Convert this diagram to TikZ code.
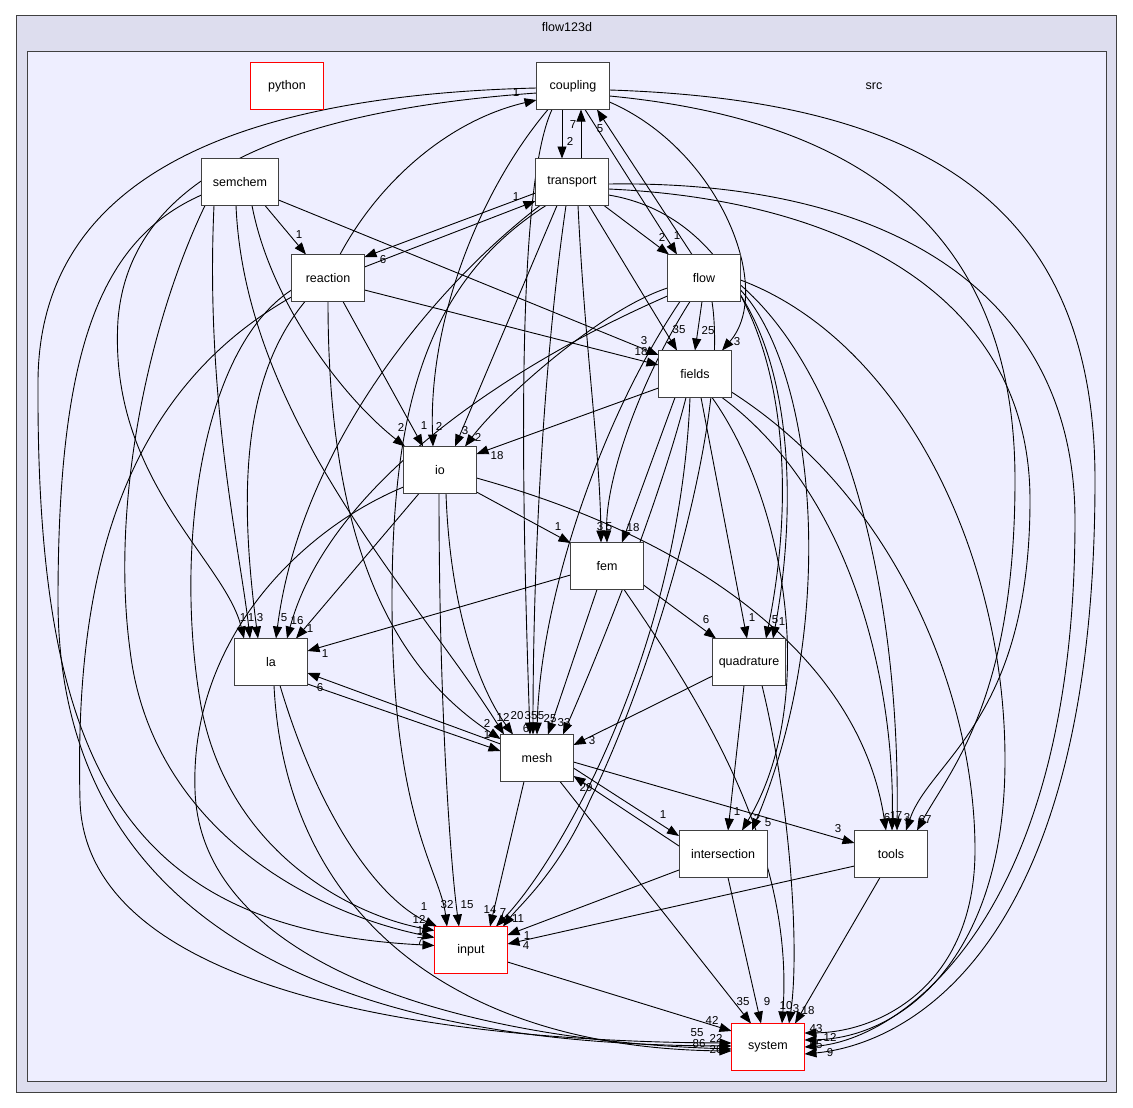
\documentclass[tikz,border=0pt]{standalone}
\usepackage{fontspec}
\setmainfont{Liberation Sans}
\usetikzlibrary{arrows.meta,calc}
\definecolor{outerfill}{HTML}{DDDDEE}
\definecolor{innerfill}{HTML}{EEEEFF}
\definecolor{frame}{HTML}{404040}
\definecolor{redframe}{HTML}{FF0000}
\pgfdeclarelayer{bg}
\pgfdeclarelayer{edges}
\pgfsetlayers{bg,edges,main}
\begin{document}
\begin{tikzpicture}[x=1pt,y=-1pt,
  box/.style={draw=frame, fill=white, line width=1pt, minimum width=73pt, minimum height=47pt, inner sep=0pt, font=\fontsize{12.5}{14}\selectfont},
  redbox/.style={box, draw=redframe},
  dep/.style={draw=black, line width=0.9pt, -{Triangle[length=12pt,width=9pt]}},
  lbl/.style={font=\fontsize{11.5}{12}\selectfont, inner sep=0pt},
  title/.style={font=\fontsize{12.5}{14}\selectfont, inner sep=0pt}]
\useasboundingbox (0,0) rectangle (1133,1108);
\begin{pgfonlayer}{bg}
\draw[frame, fill=outerfill, line width=1pt] (16,16) rectangle (1116,1092);
\draw[frame, fill=innerfill, line width=1pt] (27,52) rectangle (1106,1081);
\end{pgfonlayer}
\node[title] (ttl) at (567,27) {flow123d};
\node[title] (srct) at (874,86) {src};
% nodes
\node[redbox] (pyt) at (287,86) {python};
\node[box] (cpl) at (573,86) {coupling};
\node[box] (trn) at (572,182) {transport};
\node[box, minimum width=77pt] (sem) at (240,182) {semchem};
\node[box] (rea) at (328,278) {reaction};
\node[box] (flw) at (704,278) {flow};
\node[box] (fld) at (695,374) {fields};
\node[box] (nio) at (440,470) {io};
\node[box] (fem) at (607,566) {fem};
\node[box] (nla) at (271,662) {la};
\node[box] (qua) at (749,662) {quadrature};
\node[box] (msh) at (537,758) {mesh};
\node[box, minimum width=88pt] (ist) at (723,854) {intersection};
\node[box] (tls) at (891,854) {tools};
\node[redbox] (inp) at (471,950) {input};
\node[redbox] (sys) at (768,1047) {system};
\begin{pgfonlayer}{edges}
% coupling
\draw[dep] ($(cpl)+(-11,23.5)$) -- ($(trn)+(-10,-23.5)$);
\draw[dep] ($(trn)+(9,-23.5)$) -- ($(cpl)+(8,23.5)$);
\draw[dep] ($(cpl)+(12,23.5)$) -- ($(flw)+(-27,-23.5)$);
\draw[dep] ($(flw)+(-12,-23.5)$) -- ($(cpl)+(24,23.5)$);
\draw[dep] ($(cpl)+(-25,23.5)$) .. controls (480,190) and (428,320) .. ($(nio)+(-7,-23.5)$);
\draw[dep] ($(cpl)+(-21,23.5)$) .. controls (515,190) and (522,500) .. ($(msh)+(-7,-23.5)$);
\draw[dep] ($(cpl)+(-36.5,7)$) .. controls (300,110) and (130,170) .. (118,320) .. controls (108,480) and (225,560) .. ($(nla)+(-27,-23.5)$);
\draw[dep] ($(cpl)+(-36.5,2)$) .. controls (250,95) and (40,170) .. (38,380) .. controls (36,760) and (120,930) .. ($(inp)+(-36.5,-4.5)$);
\draw[dep] ($(cpl)+(36.5,16)$) .. controls (720,150) and (775,290) .. ($(fld)+(27,-23.5)$);
\draw[dep] ($(cpl)+(36.5,10)$) .. controls (860,120) and (1015,230) .. (1015,480) .. controls (1015,700) and (950,770) .. ($(tls)+(26,-23.5)$);
\draw[dep] ($(cpl)+(36.5,4)$) .. controls (920,100) and (1095,200) .. (1095,480) .. controls (1095,960) and (900,1045) .. ($(sys)+(36.5,7)$);
% transport
\draw[dep] ($(trn)+(32,23.5)$) -- ($(flw)+(-35,-23.5)$);
\draw[dep] ($(trn)+(-36.5,11)$) -- ($(rea)+(36.5,-21)$);
\draw[dep] ($(rea)+(36.5,-11)$) -- ($(trn)+(-36.5,19)$);
\draw[dep] ($(trn)+(17,23.5)$) -- ($(fld)+(-18,-23.5)$);
\draw[dep] ($(trn)+(-15,23.5)$) -- ($(nio)+(15,-23.5)$);
\draw[dep] ($(trn)+(6,23.5)$) .. controls (585,350) and (600,450) .. ($(fem)+(-6,-23.5)$);
\draw[dep] ($(trn)+(-6,23.5)$) .. controls (545,350) and (533,550) .. ($(msh)+(-4,-23.5)$);
\draw[dep] ($(trn)+(-32,23.5)$) .. controls (430,290) and (300,450) .. ($(nla)+(5,-23.5)$);
\draw[dep] ($(trn)+(-26,23.5)$) .. controls (430,280) and (392,400) .. (392,600) .. controls (392,820) and (440,870) .. ($(inp)+(-24,-23.5)$);
\draw[dep] ($(trn)+(36.5,13)$) .. controls (760,220) and (810,420) .. ($(qua)+(17,-23.5)$);
\draw[dep] ($(trn)+(36.5,7)$) .. controls (850,200) and (1030,300) .. (1030,500) .. controls (1030,720) and (930,760) .. ($(tls)+(15,-23.5)$);
\draw[dep] ($(trn)+(36.5,2)$) .. controls (900,180) and (1075,300) .. (1075,520) .. controls (1075,920) and (900,1040) .. ($(sys)+(36.5,0)$);
% semchem
\draw[dep] ($(sem)+(25,23.5)$) -- ($(rea)+(-22,-23.5)$);
\draw[dep] ($(sem)+(12,23.5)$) .. controls (270,300) and (340,395) .. ($(nio)+(-35,-23.5)$);
\draw[dep] ($(sem)+(38.5,18)$) -- ($(fld)+(-36.5,-19)$);
\draw[dep] ($(sem)+(-26,23.5)$) .. controls (205,400) and (240,550) .. ($(nla)+(-21,-23.5)$);
\draw[dep] ($(sem)+(-4,23.5)$) .. controls (245,420) and (420,600) .. ($(msh)+(-33,-23.5)$);
\draw[dep] ($(sem)+(-35,23.5)$) .. controls (150,320) and (110,500) .. (130,650) .. controls (150,820) and (300,910) .. ($(inp)+(-36.5,-12.5)$);
\draw[dep] ($(sem)+(-38.5,13)$) .. controls (100,240) and (58,350) .. (58,600) .. controls (58,1010) and (500,1045) .. ($(sys)+(-36.5,-1)$);
% reaction
\draw[dep] ($(rea)+(12,-23.5)$) .. controls (380,180) and (450,120) .. ($(cpl)+(-36.5,14)$);
\draw[dep] ($(rea)+(15,23.5)$) -- ($(nio)+(-17,-23.5)$);
\draw[dep] ($(rea)+(36.5,12)$) -- ($(fld)+(-36.5,-9)$);
\draw[dep] ($(rea)+(-23,23.5)$) .. controls (240,380) and (240,500) .. ($(nla)+(-13,-23.5)$);
\draw[dep] ($(rea)+(0,23.5)$) .. controls (328,520) and (380,660) .. ($(msh)+(-36.5,-19)$);
\draw[dep] ($(rea)+(-36.5,12)$) .. controls (200,350) and (175,550) .. (200,700) .. controls (225,850) and (350,915) .. ($(inp)+(-36.5,-19.5)$);
\draw[dep] ($(rea)+(-36.5,19)$) .. controls (110,400) and (75,600) .. (80,800) .. controls (85,1010) and (500,1042) .. ($(sys)+(-36.5,-4)$);
% flow
\draw[dep] ($(flw)+(-2,23.5)$) -- ($(fld)+(0,-23.5)$);
\draw[dep] ($(flw)+(-36.5,10)$) .. controls (600,310) and (500,400) .. ($(nio)+(25,-23.5)$);
\draw[dep] ($(flw)+(-36.5,18)$) .. controls (520,360) and (330,480) .. ($(nla)+(16,-23.5)$);
\draw[dep] ($(flw)+(-24,23.5)$) .. controls (600,420) and (540,600) .. ($(msh)+(0,-23.5)$);
\draw[dep] ($(flw)+(-14,23.5)$) .. controls (640,380) and (605,480) .. ($(fem)+(0,-23.5)$);
\draw[dep] ($(flw)+(8,23.5)$) .. controls (730,420) and (650,680) .. (590,800) .. controls (560,870) and (520,905) .. ($(inp)+(32,-23.5)$);
\draw[dep] ($(flw)+(36.5,17)$) .. controls (795,380) and (795,520) .. ($(qua)+(24,-23.5)$);
\draw[dep] ($(flw)+(36.5,12)$) .. controls (815,370) and (840,620) .. ($(ist)+(29,-23.5)$);
\draw[dep] ($(flw)+(36.5,7)$) .. controls (850,380) and (900,600) .. ($(tls)+(6,-23.5)$);
\draw[dep] ($(flw)+(36.5,2)$) .. controls (900,340) and (1005,550) .. (1005,760) .. controls (1005,960) and (900,1038) .. ($(sys)+(36.5,-7)$);
% fields
\draw[dep] ($(fld)+(-36.5,14)$) -- ($(nio)+(36.5,-16)$);
\draw[dep] ($(fld)+(-20,23.5)$) -- ($(fem)+(15,-23.5)$);
\draw[dep] ($(fld)+(6,23.5)$) -- ($(qua)+(-2,-23.5)$);
\draw[dep] ($(fld)+(-9,23.5)$) .. controls (660,500) and (600,650) .. ($(msh)+(26,-23.5)$);
\draw[dep] ($(fld)+(-5,23.5)$) .. controls (680,650) and (560,860) .. ($(inp)+(25,-23.5)$);
\draw[dep] ($(fld)+(17,23.5)$) .. controls (785,500) and (820,700) .. ($(ist)+(19,-23.5)$);
\draw[dep] ($(fld)+(27,23.5)$) .. controls (860,500) and (895,700) .. ($(tls)+(1,-23.5)$);
\draw[dep] ($(fld)+(36.5,18)$) .. controls (900,500) and (975,700) .. (975,850) .. controls (975,985) and (880,1032) .. ($(sys)+(36.5,-14)$);
% io
\draw[dep] ($(nio)+(36.5,22)$) -- ($(fem)+(-36.5,-23)$);
\draw[dep] ($(nio)+(-21,23.5)$) -- ($(nla)+(25,-23.5)$);
\draw[dep] ($(nio)+(6,23.5)$) .. controls (450,610) and (480,690) .. ($(msh)+(-24,-23.5)$);
\draw[dep] ($(nio)+(-1,23.5)$) .. controls (439,700) and (450,860) .. ($(inp)+(-12,-23.5)$);
\draw[dep] ($(nio)+(36.5,8)$) .. controls (700,540) and (860,660) .. ($(tls)+(-5,-23.5)$);
\draw[dep] ($(nio)+(-36.5,17)$) .. controls (300,530) and (190,640) .. (195,790) .. controls (200,960) and (450,1040) .. ($(sys)+(-36.5,2)$);
% fem
\draw[dep] ($(fem)+(-36.5,9)$) -- ($(nla)+(36.5,-11)$);
\draw[dep] ($(fem)+(36.5,19)$) -- ($(qua)+(-33,-23.5)$);
\draw[dep] ($(fem)+(-10,23.5)$) -- ($(msh)+(11,-23.5)$);
\draw[dep] ($(fem)+(17,23.5)$) .. controls (700,700) and (795,850) .. ($(sys)+(14,-23.5)$);
% la
\draw[dep] ($(nla)+(36.5,22)$) -- ($(msh)+(-36.5,-7)$);
\draw[dep] ($(msh)+(-36.5,-14)$) -- ($(nla)+(36.5,11)$);
\draw[dep] ($(nla)+(9,23.5)$) .. controls (320,820) and (380,900) .. ($(inp)+(-34,-23.5)$);
\draw[dep] ($(nla)+(3,23.5)$) .. controls (285,910) and (450,1048) .. ($(sys)+(-36.5,4)$);
% quadrature
\draw[dep] ($(qua)+(-36.5,14)$) -- ($(msh)+(36.5,-13)$);
\draw[dep] ($(qua)+(-5,23.5)$) -- ($(ist)+(5,-23.5)$);
\draw[dep] ($(qua)+(13,23.5)$) .. controls (790,800) and (800,950) .. ($(sys)+(21,-23.5)$);
% mesh
\draw[dep] ($(msh)+(36.5,10)$) -- ($(ist)+(-44,-18)$);
\draw[dep] ($(ist)+(-44,-8)$) -- ($(msh)+(36.5,18)$);
\draw[dep] ($(msh)+(36.5,4)$) -- ($(tls)+(-36.5,-11)$);
\draw[dep] ($(msh)+(-13,23.5)$) -- ($(inp)+(19,-23.5)$);
\draw[dep] ($(msh)+(23,23.5)$) -- ($(sys)+(-17,-23.5)$);
% intersection, tools, input
\draw[dep] ($(ist)+(-44,16)$) -- ($(inp)+(36.5,-15)$);
\draw[dep] ($(ist)+(5,23.5)$) -- ($(sys)+(-7,-23.5)$);
\draw[dep] ($(tls)+(-36.5,12)$) -- ($(inp)+(36.5,-6)$);
\draw[dep] ($(tls)+(-11,23.5)$) -- ($(sys)+(27,-23.5)$);
\draw[dep] ($(inp)+(36.5,12)$) -- ($(sys)+(-36.5,-16)$);
\end{pgfonlayer}
% labels
\node[lbl] (l01) at (570,141) {2};
\node[lbl] (l02) at (573,125) {7};
\node[lbl] (l03) at (677,236) {1};
\node[lbl] (l04) at (600,129) {5};
\node[lbl] (l05) at (439,426) {2};
\node[lbl] (l06) at (541,716) {5};
\node[lbl] (l07) at (243,618) {1};
\node[lbl] (l08) at (420,942) {7};
\node[lbl] (l09) at (737,342) {3};
\node[lbl] (l10) at (925,820) {67};
\node[lbl] (l11) at (830,1053) {9};
\node[lbl] (l12) at (662,237) {2};
\node[lbl] (l13) at (383,260) {6};
\node[lbl] (l14) at (516,197) {1};
\node[lbl] (l15) at (679,330) {35};
\node[lbl] (l16) at (465,431) {3};
\node[lbl] (l17) at (600,527) {3};
\node[lbl] (l18) at (531,716) {35};
\node[lbl] (l19) at (284,618) {5};
\node[lbl] (l20) at (447,905) {32};
\node[lbl] (l21) at (775,620) {5};
\node[lbl] (l22) at (907,818) {3};
\node[lbl] (l23) at (816,1045) {55};
\node[lbl] (l24) at (299,235) {1};
\node[lbl] (l25) at (401,427) {2};
\node[lbl] (l26) at (644,341) {3};
\node[lbl] (l27) at (251,618) {1};
\node[lbl] (l28) at (503,717) {12};
\node[lbl] (l29) at (420,930.5) {1};
\node[lbl] (l30) at (697,1033) {55};
\node[lbl] (l31) at (516,93) {1};
\node[lbl] (l32) at (424,426) {1};
\node[lbl] (l33) at (641,352) {18};
\node[lbl] (l34) at (260,618) {3};
\node[lbl] (l35) at (487,723) {2};
\node[lbl] (l36) at (419,919) {12};
\node[lbl] (l37) at (716,1038) {22};
\node[lbl] (l38) at (708,331) {25};
\node[lbl] (l39) at (478,437) {2};
\node[lbl] (l40) at (297,621) {16};
\node[lbl] (l41) at (526,729) {6};
\node[lbl] (l42) at (609,527) {5};
\node[lbl] (l43) at (518,919) {11};
\node[lbl] (l44) at (782,622) {1};
\node[lbl] (l45) at (768,823) {5};
\node[lbl] (l46) at (899,816) {7};
\node[lbl] (l47) at (830,1037) {12};
\node[lbl] (l48) at (497,456) {18};
\node[lbl] (l49) at (633,528) {18};
\node[lbl] (l50) at (752,618) {1};
\node[lbl] (l51) at (564,723) {33};
\node[lbl] (l52) at (503,913) {7};
\node[lbl] (l53) at (757,818) {2};
\node[lbl] (l54) at (893,816) {1};
\node[lbl] (l55) at (816,1029) {43};
\node[lbl] (l56) at (558,527) {1};
\node[lbl] (l57) at (310,629) {1};
\node[lbl] (l58) at (517,716) {20};
\node[lbl] (l59) at (467,905) {15};
\node[lbl] (l60) at (887,818) {6};
\node[lbl] (l61) at (699,1044) {86};
\node[lbl] (l62) at (325,654) {1};
\node[lbl] (l63) at (706,620) {6};
\node[lbl] (l64) at (550,719) {25};
\node[lbl] (l65) at (786,1006) {10};
\node[lbl] (l66) at (487,735) {1};
\node[lbl] (l67) at (320,688) {6};
\node[lbl] (l68) at (424,907) {1};
\node[lbl] (l69) at (716,1050) {26};
\node[lbl] (l70) at (592,741) {3};
\node[lbl] (l71) at (737,812) {1};
\node[lbl] (l72) at (796,1009) {3};
\node[lbl] (l73) at (663,815) {1};
\node[lbl] (l74) at (586,788) {29};
\node[lbl] (l75) at (838,829) {3};
\node[lbl] (l76) at (490,910) {14};
\node[lbl] (l77) at (743,1002) {35};
\node[lbl] (l78) at (527,936) {1};
\node[lbl] (l79) at (767,1002) {9};
\node[lbl] (l80) at (526,946) {4};
\node[lbl] (l81) at (808,1011) {18};
\node[lbl] (l82) at (712,1020) {42};
\end{tikzpicture}
\end{document}
